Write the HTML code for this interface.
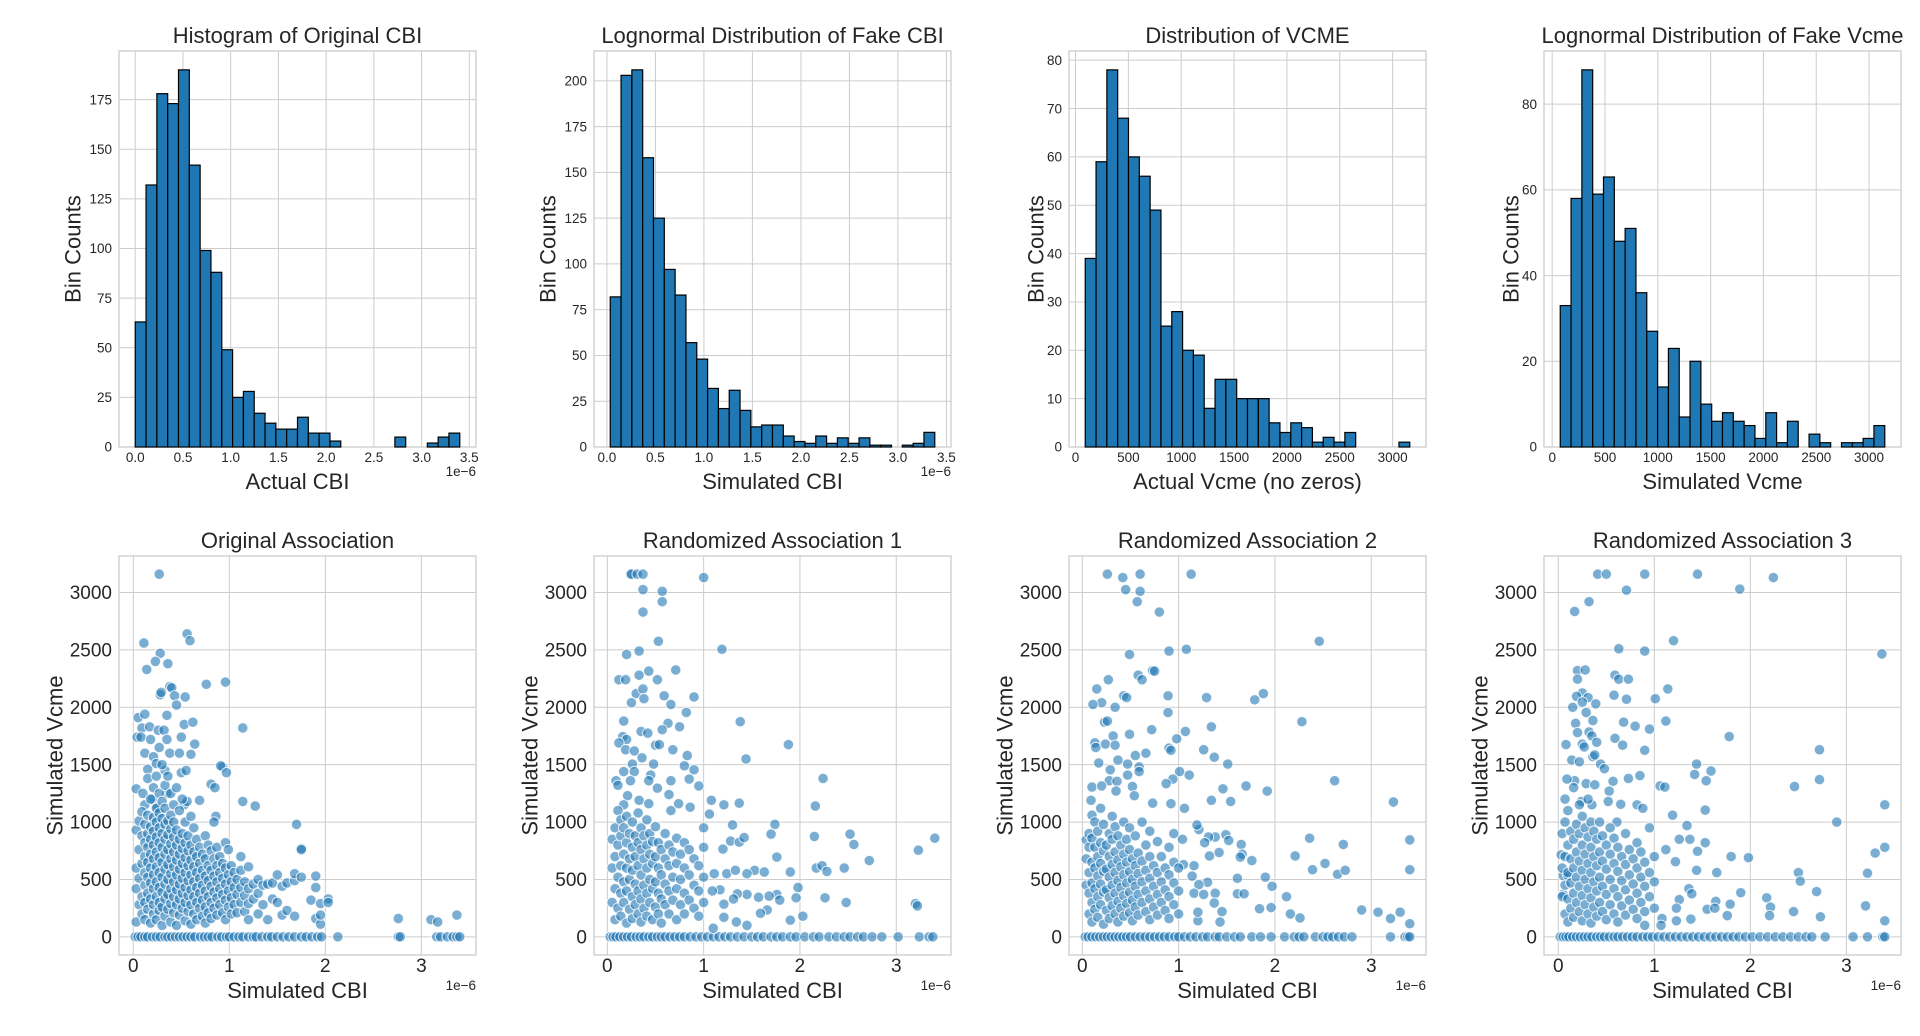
<!DOCTYPE html>
<html><head><meta charset="utf-8"><style>
html,body{margin:0;padding:0;background:#fff;}
svg{display:block;font-family:"Liberation Sans",Arial,sans-serif;}
</style></head><body>
<svg id="fig" width="1920" height="1036" viewBox="0 0 1920 1036" xmlns="http://www.w3.org/2000/svg"></svg>
<script>
// ---------- Histogram data ----------
const hist1Counts = [63,132,178,173,190,142,99,88,49,25,28,17,12,9,9,15,7,7,3,0,0,0,0,0,5,0,0,2,5,7];
const hist1Range = [0.0, 3.4];
const hist2Counts = [82,203,206,158,125,97,83,57,48,32,21,31,20,11,12,12,6,3,2,6,2,5,2,5,1,1,0,1,2,8];
const hist2Range = [0.034, 3.38];
const hist3Counts = [39,59,78,68,60,56,49,25,28,20,19,8,14,14,10,10,10,5,3,5,4,1,2,1,3,0,0,0,0,1];
const hist3Range = [92, 3162];
const hist4Counts = [33,58,88,59,63,48,51,36,27,14,23,7,20,10,6,8,6,5,2,8,1,6,0,3,1,0,1,1,2,5];
const hist4Range = [76, 3149];
const cbiTicks = ["0.0","0.5","1.0","1.5","2.0","2.5","3.0","3.5"];
const vcmeTicks = ["0","500","1000","1500","2000","2500","3000"];
const hist1YTicks = [0,25,50,75,100,125,150,175];
const hist2YTicks = [0,25,50,75,100,125,150,175,200];
const hist3YTicks = [0,10,20,30,40,50,60,70,80];
const hist4YTicks = [0,20,40,60,80];
const scatterXTicks = [0,1,2,3];
const scatterYTicks = [0,500,1000,1500,2000,2500,3000];

// ---------- Scatter data (CBI in 1e-6, Vcme) ----------
const origZeroX = [0.02,0.05,0.08,0.12,0.15,0.2,0.24,0.28,0.33,0.36,0.4,0.44,0.48,0.52,0.56,0.6,0.64,0.7,0.74,0.78,0.82,0.88,0.92,0.97,1.0,1.05,1.1,1.14,1.2,1.25,1.28,1.34,1.4,1.44,1.5,1.56,1.62,1.68,1.75,1.8,1.86,1.92,1.96,2.13,2.76,2.78,3.16,3.2,3.27,3.33,3.37,3.4];
const origPoints = [[0.27,3160],[0.56,2640],[0.59,2580],[0.11,2560],[0.28,2470],[0.23,2400],[0.36,2380],[0.14,2330],[0.76,2200],[0.96,2220],[0.38,2180],[0.4,2170],[0.28,2110],[0.29,2130],[0.43,2100],[0.54,2090],[0.45,2020],[0.05,1910],[0.12,1940],[0.35,1930],[0.09,1820],[0.17,1830],[0.26,1800],[0.32,1800],[0.53,1850],[0.62,1870],[1.14,1820],[0.04,1740],[0.08,1740],[0.18,1720],[0.35,1720],[0.5,1740],[0.12,1600],[0.21,1570],[0.38,1600],[0.6,1590],[0.64,1680],[0.15,1460],[0.24,1510],[0.33,1450],[0.5,1430],[0.55,1450],[0.93,1480],[0.91,1490],[0.97,1430],[0.81,1330],[0.85,1300],[0.03,1290],[0.1,1250],[0.2,1200],[0.35,1250],[0.69,1190],[0.12,1150],[0.25,1130],[0.53,1150],[0.56,1180],[1.14,1180],[1.27,1140],[0.86,1050],[1.7,980],
[0.03,130],[0.03,420],[0.03,600],[0.03,930],[0.06,280],[0.06,510],[0.06,760],[0.06,1010],[0.09,200],[0.09,350],[0.09,640],[0.09,880],[0.09,1090],[0.12,150],[0.12,300],[0.12,450],[0.12,560],[0.12,700],[0.12,820],[0.12,980],[0.15,240],[0.15,380],[0.15,520],[0.15,650],[0.15,780],[0.15,900],[0.15,1060],[0.15,1380],[0.18,120],[0.18,330],[0.18,470],[0.18,600],[0.18,720],[0.18,850],[0.18,960],[0.18,1200],[0.21,200],[0.21,280],[0.21,420],[0.21,540],[0.21,680],[0.21,800],[0.21,920],[0.21,1040],[0.21,1300],[0.24,150],[0.24,350],[0.24,480],[0.24,610],[0.24,740],[0.24,870],[0.24,1000],[0.24,1120],[0.24,1400],[0.27,230],[0.27,300],[0.27,430],[0.27,560],[0.27,690],[0.27,820],[0.27,950],[0.27,1080],[0.27,1250],[0.27,1650],[0.3,100],[0.3,260],[0.3,390],[0.3,520],[0.3,650],[0.3,780],[0.3,900],[0.3,1030],[0.3,1180],[0.3,1500],[0.33,180],[0.33,330],[0.33,460],[0.33,590],[0.33,720],[0.33,850],[0.33,980],[0.33,1120],[0.33,1320],[0.36,240],[0.36,370],[0.36,500],[0.36,630],[0.36,760],[0.36,890],[0.36,1010],[0.36,1400],[0.39,130],[0.39,290],[0.39,420],[0.39,550],[0.39,680],[0.39,810],[0.39,940],[0.39,1060],[0.39,1250],[0.42,210],[0.42,350],[0.42,480],[0.42,610],[0.42,740],[0.42,870],[0.42,1000],[0.42,1150],[0.45,100],[0.45,280],[0.45,410],[0.45,540],[0.45,670],[0.45,800],[0.45,930],[0.45,1300],[0.48,190],[0.48,330],[0.48,460],[0.48,590],[0.48,720],[0.48,850],[0.48,1100],[0.48,1600],[0.51,250],[0.51,380],[0.51,510],[0.51,640],[0.51,770],[0.51,900],[0.51,1200],[0.54,140],[0.54,300],[0.54,430],[0.54,560],[0.54,690],[0.54,820],[0.54,1000],[0.57,220],[0.57,360],[0.57,490],[0.57,620],[0.57,750],[0.57,880],[0.6,110],[0.6,280],[0.6,410],[0.6,540],[0.6,670],[0.6,800],[0.6,1050],[0.63,200],[0.63,350],[0.63,480],[0.63,610],[0.63,740],[0.63,950],[0.66,150],[0.66,300],[0.66,430],[0.66,560],[0.66,700],[0.66,850],[0.69,250],[0.69,380],[0.69,510],[0.69,640],[0.69,780],[0.72,180],[0.72,320],[0.72,450],[0.72,580],[0.72,720],[0.75,120],[0.75,260],[0.75,400],[0.75,530],[0.75,680],[0.75,880],[0.78,210],[0.78,350],[0.78,490],[0.78,620],[0.78,800],[0.81,160],[0.81,300],[0.81,440],[0.81,580],[0.81,750],[0.84,250],[0.84,390],[0.84,530],[0.84,680],[0.84,1000],[0.87,190],[0.87,340],[0.87,480],[0.87,620],[0.87,780],[0.9,280],[0.9,420],[0.9,560],[0.9,700],[0.93,210],[0.93,370],[0.93,510],[0.93,640],[0.96,150],[0.96,320],[0.96,460],[0.96,600],[0.96,820],[0.99,260],[0.99,400],[0.99,540],[0.99,760],[1.02,200],[1.02,340],[1.02,480],[1.02,620],[1.05,280],[1.05,430],[1.05,560],[1.08,210],[1.08,370],[1.08,500],[1.12,300],[1.12,430],[1.12,580],[1.12,700],[1.16,220],[1.16,360],[1.16,480],[1.2,150],[1.2,290],[1.2,420],[1.2,610],[1.25,330],[1.25,460],[1.3,200],[1.3,380],[1.3,500],[1.35,450],[1.35,280],[1.4,460],[1.4,150],[1.45,470],[1.45,330],[1.5,540],[1.5,300],[1.55,190],[1.55,440],[1.6,230],[1.6,470],[1.68,180],[1.68,490],[1.68,550],[1.75,770],[1.75,760],[1.75,520],[1.85,320],[1.9,160],[1.9,430],[1.9,530],[1.95,290],[1.95,110],[1.95,190],[2.03,330],[2.03,300],[2.76,160],[3.1,150],[3.17,130],[3.37,190]];

const rand1ZeroX = [0.03,0.06,0.09,0.13,0.17,0.21,0.25,0.3,0.34,0.38,0.43,0.47,0.52,0.56,0.6,0.65,0.7,0.75,0.8,0.86,0.92,0.98,1.04,1.1,1.16,1.22,1.28,1.35,1.42,1.5,1.56,1.62,1.7,1.76,1.82,1.9,1.96,2.05,2.14,2.2,2.3,2.38,2.46,2.52,2.6,2.66,2.75,2.85,3.02,3.24,3.34,3.38];
const rand1Points = [[0.24,3160],[0.25,3160],[0.31,3160],[0.37,3160],[1.0,3130],[0.37,3025],[0.57,3010],[0.57,2920],[0.37,2830],[0.53,2575],[1.19,2505],[0.2,2460],[0.33,2490],[0.71,2325],[0.43,2315],[0.33,2280],[0.12,2240],[0.19,2240],[0.52,2240],[0.3,2120],[0.37,2160],[0.38,2075],[0.59,2100],[0.9,2090],[0.25,2040],[0.66,2025],[0.82,1955],[0.17,1880],[0.63,1860],[1.38,1875],[0.57,1805],[0.75,1830],[0.35,1790],[0.42,1775],[0.16,1745],[0.2,1720],[0.12,1690],[0.19,1630],[1.88,1675],[0.5,1670],[0.54,1675],[0.28,1620],[0.68,1630],[0.83,1580],[0.36,1560],[1.44,1550],[0.26,1505],[0.48,1505],[0.8,1490],[0.9,1455],[0.17,1440],[0.28,1440],[0.45,1410],[0.09,1360],[0.24,1360],[0.43,1360],[0.66,1360],[2.24,1380],[0.85,1375],[0.11,1320],[0.52,1295],[0.95,1315],[0.21,1230],[0.64,1240],[0.33,1190],[1.08,1190],[0.17,1150],[1.21,1150],[1.37,1165],[2.16,1140],[1.06,1070],[0.43,1160],[0.74,1160],[0.86,1130],[0.66,1100],
[1.74,980],[1.7,895],[1.3,975],[2.15,875],[2.52,895],[2.56,805],[3.4,860],[3.23,755],[2.72,665],[1.76,695],[1.2,765],[1.28,835],[1.37,825],[1.42,865],[2.17,600],[2.23,620],[2.28,570],[2.46,600],[1.9,565],[1.53,580],[1.63,565],[1.45,550],[1.11,550],[1.24,550],[1.33,580],[1.98,430],[2.26,340],[2.48,300],[3.2,290],[3.22,270],[1.76,370],[1.96,340],[1.79,320],[1.57,345],[1.68,355],[1.45,370],[1.35,375],[1.31,330],[1.21,285],[1.17,410],[1.09,400],[1.66,235],[1.59,205],[1.21,170],[1.34,130],[1.45,100],[1.9,145],[2.03,180],[1.1,75],
[0.05,300],[0.05,600],[0.05,850],[0.08,150],[0.08,420],[0.08,700],[0.08,950],[0.11,250],[0.11,520],[0.11,800],[0.11,1100],[0.14,180],[0.14,380],[0.14,620],[0.14,880],[0.14,1020],[0.17,300],[0.17,480],[0.17,720],[0.17,950],[0.2,120],[0.2,400],[0.2,600],[0.2,820],[0.2,1050],[0.23,240],[0.23,500],[0.23,680],[0.23,900],[0.26,160],[0.26,350],[0.26,580],[0.26,780],[0.26,1000],[0.29,280],[0.29,460],[0.29,700],[0.29,880],[0.32,200],[0.32,400],[0.32,620],[0.32,820],[0.32,1080],[0.35,130],[0.35,330],[0.35,540],[0.35,760],[0.35,950],[0.38,250],[0.38,450],[0.38,680],[0.38,880],[0.41,180],[0.41,380],[0.41,600],[0.41,800],[0.41,1020],[0.44,300],[0.44,500],[0.44,720],[0.44,900],[0.47,150],[0.47,420],[0.47,640],[0.47,830],[0.5,260],[0.5,480],[0.5,700],[0.5,960],[0.53,200],[0.53,380],[0.53,600],[0.53,820],[0.56,120],[0.56,330],[0.56,540],[0.56,760],[0.6,280],[0.6,460],[0.6,680],[0.6,900],[0.64,200],[0.64,400],[0.64,620],[0.64,800],[0.68,320],[0.68,520],[0.68,740],[0.72,150],[0.72,420],[0.72,640],[0.72,860],[0.76,280],[0.76,500],[0.76,720],[0.8,200],[0.8,380],[0.8,600],[0.8,820],[0.85,320],[0.85,540],[0.85,760],[0.9,250],[0.9,450],[0.9,680],[0.95,180],[0.95,400],[0.95,620],[1.0,300],[1.0,520],[1.0,780],[1.0,950]];

const rand2ZeroX = [0.03,0.06,0.1,0.14,0.18,0.22,0.26,0.3,0.34,0.38,0.42,0.46,0.5,0.55,0.6,0.65,0.7,0.75,0.8,0.85,0.9,0.96,1.0,1.06,1.12,1.18,1.25,1.3,1.38,1.42,1.5,1.58,1.64,1.76,1.85,1.96,2.1,2.2,2.25,2.3,2.42,2.5,2.55,2.6,2.66,2.72,2.8,3.2,3.35,3.38,3.4];
const rand2Points = [[0.26,3160],[0.42,3130],[0.45,3025],[0.6,3160],[0.6,3010],[0.57,2920],[1.13,3160],[0.8,2830],[2.46,2575],[0.49,2460],[0.9,2490],[1.08,2505],[0.73,2320],[0.75,2315],[0.58,2280],[0.62,2240],[0.27,2240],[0.15,2160],[0.2,2040],[0.11,2025],[0.34,2000],[0.43,2100],[0.46,2085],[0.89,2100],[1.29,2085],[1.79,2065],[1.88,2120],[0.89,1955],[0.23,1870],[0.26,1880],[2.28,1875],[1.34,1830],[0.72,1805],[1.07,1790],[0.32,1750],[0.49,1765],[0.98,1725],[0.13,1690],[0.24,1680],[0.34,1670],[0.9,1645],[0.92,1625],[1.26,1630],[0.55,1580],[0.66,1600],[1.37,1565],[0.14,1650],[0.37,1540],[0.17,1515],[0.47,1505],[0.59,1480],[1.51,1505],[0.29,1455],[0.59,1440],[0.47,1410],[1.01,1440],[1.11,1410],[0.94,1375],[0.28,1360],[0.36,1355],[0.87,1335],[2.62,1360],[0.1,1305],[0.2,1315],[0.52,1310],[1.7,1315],[1.46,1290],[1.92,1270],[0.09,1190],[0.35,1270],[0.54,1230],[1.34,1190],[1.54,1180],[3.23,1175],[0.73,1165],[0.92,1160],[1.06,1120],[0.04,845],[2.36,860],[2.71,805],[3.4,845],[2.21,705],[2.52,640],[2.39,585],[2.65,545],[2.73,580],[3.4,585],[2.9,235],[3.07,215],[3.3,215],[3.2,160],[3.4,115],[2.12,350],[2.16,200],[2.26,165],[1.84,245],[1.96,255],[1.97,440],[1.9,520],[1.61,510],[1.76,665],[1.65,805],[1.66,720],[1.64,695],[1.49,890],[1.52,840],[1.42,735],[1.32,705],[1.38,870],[1.31,870],[1.27,820],[1.21,935],[1.19,975],[1.04,850],[1.05,630],[1.16,620],[1.14,530],[1.3,475],[1.21,455],[1.16,380],[1.26,370],[1.38,380],[1.37,295],[1.61,375],[1.68,375],[1.45,220],[1.43,130],[1.2,140],[1.2,215],
[0.04,450],[0.04,680],[0.07,200],[0.07,380],[0.07,560],[0.07,780],[0.07,900],[0.1,130],[0.1,300],[0.1,470],[0.1,650],[0.1,860],[0.1,1060],[0.13,240],[0.13,420],[0.13,600],[0.13,780],[0.13,1000],[0.16,170],[0.16,350],[0.16,530],[0.16,700],[0.16,920],[0.19,280],[0.19,460],[0.19,640],[0.19,820],[0.19,1120],[0.22,110],[0.22,390],[0.22,570],[0.22,750],[0.22,980],[0.25,230],[0.25,410],[0.25,590],[0.25,800],[0.28,160],[0.28,340],[0.28,520],[0.28,700],[0.28,900],[0.31,270],[0.31,450],[0.31,630],[0.31,850],[0.31,1050],[0.34,200],[0.34,380],[0.34,560],[0.34,740],[0.34,960],[0.37,130],[0.37,310],[0.37,490],[0.37,670],[0.37,880],[0.4,250],[0.4,430],[0.4,610],[0.4,800],[0.43,180],[0.43,360],[0.43,540],[0.43,720],[0.43,1000],[0.46,290],[0.46,470],[0.46,650],[0.46,850],[0.49,210],[0.49,390],[0.49,570],[0.49,760],[0.49,950],[0.52,140],[0.52,320],[0.52,500],[0.52,680],[0.55,260],[0.55,440],[0.55,620],[0.55,880],[0.58,190],[0.58,370],[0.58,550],[0.58,730],[0.62,300],[0.62,480],[0.62,660],[0.62,1000],[0.66,220],[0.66,400],[0.66,580],[0.66,800],[0.7,150],[0.7,330],[0.7,510],[0.7,700],[0.7,920],[0.74,260],[0.74,440],[0.74,620],[0.78,190],[0.78,370],[0.78,560],[0.78,830],[0.82,300],[0.82,480],[0.82,700],[0.86,230],[0.86,410],[0.86,600],[0.9,160],[0.9,350],[0.9,540],[0.9,780],[0.95,280],[0.95,470],[0.95,650],[0.95,900],[1.0,200],[1.0,400],[1.0,600]];

const rand3ZeroX = [0.02,0.05,0.08,0.11,0.15,0.19,0.23,0.27,0.31,0.35,0.4,0.44,0.48,0.53,0.58,0.62,0.67,0.72,0.77,0.82,0.88,0.93,0.98,1.04,1.1,1.16,1.22,1.28,1.34,1.4,1.46,1.52,1.58,1.64,1.7,1.76,1.82,1.88,1.95,2.02,2.1,2.18,2.26,2.34,2.42,2.5,2.58,2.64,2.78,3.07,3.22,3.38,3.4];
const rand3Points = [[0.41,3160],[0.5,3160],[0.9,3160],[1.45,3160],[2.24,3130],[1.89,3030],[0.71,3020],[0.32,2920],[0.17,2835],[1.2,2580],[0.63,2510],[0.9,2490],[3.37,2465],[0.2,2320],[0.28,2325],[0.2,2245],[0.59,2280],[0.63,2245],[0.73,2245],[0.25,2125],[0.19,2095],[0.31,2085],[0.25,2045],[1.14,2160],[0.58,2105],[0.71,2070],[1.01,2075],[0.15,2000],[0.39,2030],[0.29,1955],[0.36,1885],[0.18,1860],[0.68,1870],[0.8,1835],[1.12,1880],[0.2,1780],[0.32,1785],[0.35,1750],[0.59,1730],[0.67,1670],[1.78,1745],[0.08,1675],[0.4,1695],[0.25,1680],[0.27,1655],[0.95,1810],[0.9,1625],[2.72,1630],[0.14,1540],[0.22,1525],[0.36,1570],[0.38,1585],[0.44,1505],[0.48,1465],[1.44,1505],[1.42,1415],[1.59,1445],[1.54,1360],[0.85,1405],[0.73,1380],[0.17,1360],[0.09,1375],[0.29,1335],[0.38,1325],[0.57,1355],[0.53,1270],[1.06,1315],[1.11,1305],[2.46,1310],[2.72,1370],[0.24,1180],[0.35,1150],[1.53,1105],[0.52,1180],[0.65,1155],[0.82,1150],[0.88,1120],[3.4,1150],[1.19,1060],[2.9,1000],[0.61,1000],[1.34,970],[1.53,820],[1.45,745],[1.26,850],[1.37,850],[1.12,760],[1.8,700],[1.98,690],[3.3,730],[3.4,780],[1.22,655],[1.44,580],[1.65,560],[2.5,560],[2.52,485],[3.22,555],[1.9,385],[1.79,285],[1.64,310],[1.55,240],[1.63,250],[1.76,185],[2.17,340],[2.21,260],[2.2,185],[2.45,220],[2.69,395],[2.73,175],[3.2,270],[3.4,140],[1.36,420],[1.39,375],[1.26,325],[1.23,250],[1.23,140],[1.38,155],[1.08,160],[1.07,100],[0.9,100],[0.03,715],[0.05,535],[0.1,535],[0.05,370],
[0.04,350],[0.04,600],[0.04,900],[0.07,200],[0.07,450],[0.07,700],[0.07,1000],[0.07,1200],[0.1,130],[0.1,330],[0.1,560],[0.1,800],[0.1,1100],[0.13,250],[0.13,470],[0.13,680],[0.13,920],[0.16,170],[0.16,380],[0.16,600],[0.16,850],[0.16,1300],[0.19,300],[0.19,520],[0.19,740],[0.19,980],[0.22,220],[0.22,440],[0.22,660],[0.22,900],[0.22,1150],[0.25,140],[0.25,360],[0.25,580],[0.25,800],[0.25,1050],[0.28,280],[0.28,500],[0.28,720],[0.28,950],[0.31,200],[0.31,420],[0.31,640],[0.31,870],[0.31,1200],[0.34,120],[0.34,340],[0.34,560],[0.34,780],[0.34,1000],[0.37,260],[0.37,480],[0.37,700],[0.37,920],[0.4,180],[0.4,400],[0.4,620],[0.4,850],[0.43,300],[0.43,520],[0.43,740],[0.43,1000],[0.46,220],[0.46,440],[0.46,660],[0.46,880],[0.5,150],[0.5,370],[0.5,590],[0.5,800],[0.54,280],[0.54,500],[0.54,720],[0.54,950],[0.58,200],[0.58,420],[0.58,640],[0.58,860],[0.62,130],[0.62,350],[0.62,570],[0.62,780],[0.66,270],[0.66,490],[0.66,700],[0.7,190],[0.7,410],[0.7,630],[0.7,900],[0.74,320],[0.74,540],[0.74,760],[0.78,240],[0.78,460],[0.78,680],[0.82,160],[0.82,380],[0.82,600],[0.82,820],[0.86,300],[0.86,520],[0.86,740],[0.9,220],[0.9,440],[0.9,650],[0.95,350],[0.95,560],[0.95,950],[1.0,250],[1.0,480],[1.0,700]];

// ---------- Rendering ----------
const NS = "http://www.w3.org/2000/svg";
const svg = document.getElementById('fig');
const LEFTS = [119, 594, 1069, 1544];
const W = 357;
const ROW = [{top:51,bottom:447},{top:556,bottom:955}];
const TXT = "#262626", GRID = "#cccccc", BLUE = "#1f77b4";

function el(tag, attrs, parent, text){
  const e = document.createElementNS(NS, tag);
  for (const k in attrs) e.setAttribute(k, attrs[k]);
  if (text !== undefined) e.textContent = text;
  (parent||svg).appendChild(e);
  return e;
}
function lin(d0,d1,p0,p1){ return v => p0 + (v-d0)/(d1-d0)*(p1-p0); }

function frame(g, left, row){
  const r = el('rect',{x:left,y:row.top,width:W,height:row.bottom-row.top,fill:'none',stroke:GRID,'stroke-width':1.3},g);
  
  
}
function texts(g, left, row, title, xlabel, ylabel, ylabOff, isTop){
  const cx = left + W/2;
  const t = el('text',{x:cx,y:isTop?43:548,'text-anchor':'middle','font-size':22,fill:TXT},g,title);
  
  
  const xl = el('text',{x:cx,y:isTop?489:998,'text-anchor':'middle','font-size':22,fill:TXT},g,xlabel);
  
  
  const yc = (row.top+row.bottom)/2, yx = left - ylabOff;
  const yl = el('text',{x:yx,y:yc,'text-anchor':'middle','font-size':22,fill:TXT,transform:`rotate(-90 ${yx} ${yc})`,dy:'0.35em'},g,ylabel);
  
  
}
function offsetText(g,left,isTop){
  const o = el('text',{x:left+W,y:isTop?476:990,'text-anchor':'end','font-size':13.5,fill:TXT},g,'1e\u22126');
  
  
}

function drawHist(idx, name, counts, range, xTickLabels, xTickVals, yTicks, title, xlabel, cbi){
  const left = LEFTS[idx], row = ROW[0];
  const g = el('g',{});
  
  
  const span = range[1]-range[0];
  const xs = lin(range[0]-0.05*span, range[1]+0.05*span, left, left+W);
  const ymax = Math.max(...counts)*1.05;
  const ys = lin(0, ymax, row.bottom, row.top);
  xTickVals.forEach((v,i)=>{
    const px = xs(v);
    if (px>=left-0.5 && px<=left+W+0.5) el('line',{x1:px,x2:px,y1:row.top,y2:row.bottom,stroke:GRID,'stroke-width':1},g);
    const tl = el('text',{x:px,y:462,'text-anchor':'middle','font-size':13.5,fill:TXT},g,xTickLabels[i]);
    
    
  });
  yTicks.forEach(v=>{
    const py = ys(v);
    el('line',{x1:left,x2:left+W,y1:py,y2:py,stroke:GRID,'stroke-width':1},g);
    const tl = el('text',{x:left-7,y:py,'text-anchor':'end','font-size':13.5,fill:TXT,dy:'0.35em'},g,String(v));
    
    
  });
  frame(g,left,row);
  const bw = span/counts.length;
  counts.forEach((c,i)=>{
    if (c<=0) return;
    const x0 = xs(range[0]+i*bw), x1 = xs(range[0]+(i+1)*bw);
    const b = el('rect',{x:x0,y:ys(c),width:x1-x0,height:ys(0)-ys(c),fill:BLUE,stroke:'#000','stroke-width':1.2},g);
    
    
  });
  const ylabOff = String(Math.max(...yTicks)).length>2 ? 46 : 33;
  texts(g,left,row,title,xlabel,'Bin Counts',ylabOff,true);
  if (cbi) offsetText(g,left,true);
}

function drawScatter(idx, name, zeroX, pts, title){
  const left = LEFTS[idx], row = ROW[1];
  const g = el('g',{});
  
  
  const allX = zeroX.concat(pts.map(p=>p[0]));
  const allY = pts.map(p=>p[1]).concat([0]);
  const xmin=Math.min(...allX), xmax=Math.max(...allX), ymin=Math.min(...allY), ymax=Math.max(...allY);
  const xs = lin(xmin-0.05*(xmax-xmin), xmax+0.05*(xmax-xmin), left, left+W);
  const ys = lin(ymin-0.05*(ymax-ymin), ymax+0.05*(ymax-ymin), row.bottom, row.top);
  scatterXTicks.forEach(v=>{
    const px = xs(v);
    el('line',{x1:px,x2:px,y1:row.top,y2:row.bottom,stroke:GRID,'stroke-width':1},g);
    const tl = el('text',{x:px,y:972,'text-anchor':'middle','font-size':19,fill:TXT},g,String(v));
    
    
  });
  scatterYTicks.forEach(v=>{
    const py = ys(v);
    el('line',{x1:left,x2:left+W,y1:py,y2:py,stroke:GRID,'stroke-width':1},g);
    const tl = el('text',{x:left-7,y:py,'text-anchor':'end','font-size':19,fill:TXT,dy:'0.35em'},g,String(v));
    
    
  });
  frame(g,left,row);
  const drawPt = (x,y)=>{
    const c = el('circle',{cx:xs(x),cy:ys(y),r:5.2,fill:BLUE,'fill-opacity':0.6,stroke:'#fff','stroke-opacity':0.8,'stroke-width':1},g);
    
    
  };
  zeroX.forEach(x=>drawPt(x,0));
  pts.forEach(p=>drawPt(p[0],p[1]));
  texts(g,left,row,title,'Simulated CBI','Simulated Vcme',64,false);
  offsetText(g,left,false);
}

const cbiVals = [0,0.5,1.0,1.5,2.0,2.5,3.0,3.5];
const vcmeVals = [0,500,1000,1500,2000,2500,3000];
drawHist(0,'hist-original-cbi',hist1Counts,hist1Range,cbiTicks,cbiVals,hist1YTicks,'Histogram of Original CBI','Actual CBI',true);
drawHist(1,'hist-fake-cbi',hist2Counts,hist2Range,cbiTicks,cbiVals,hist2YTicks,'Lognormal Distribution of Fake CBI','Simulated CBI',true);
drawHist(2,'hist-vcme',hist3Counts,hist3Range,vcmeTicks,vcmeVals,hist3YTicks,'Distribution of VCME','Actual Vcme (no zeros)',false);
drawHist(3,'hist-fake-vcme',hist4Counts,hist4Range,vcmeTicks,vcmeVals,hist4YTicks,'Lognormal Distribution of Fake Vcme','Simulated Vcme',false);
drawScatter(0,'scatter-original',origZeroX,origPoints,'Original Association');
drawScatter(1,'scatter-random-1',rand1ZeroX,rand1Points,'Randomized Association 1');
drawScatter(2,'scatter-random-2',rand2ZeroX,rand2Points,'Randomized Association 2');
drawScatter(3,'scatter-random-3',rand3ZeroX,rand3Points,'Randomized Association 3');
</script>
</body></html>
